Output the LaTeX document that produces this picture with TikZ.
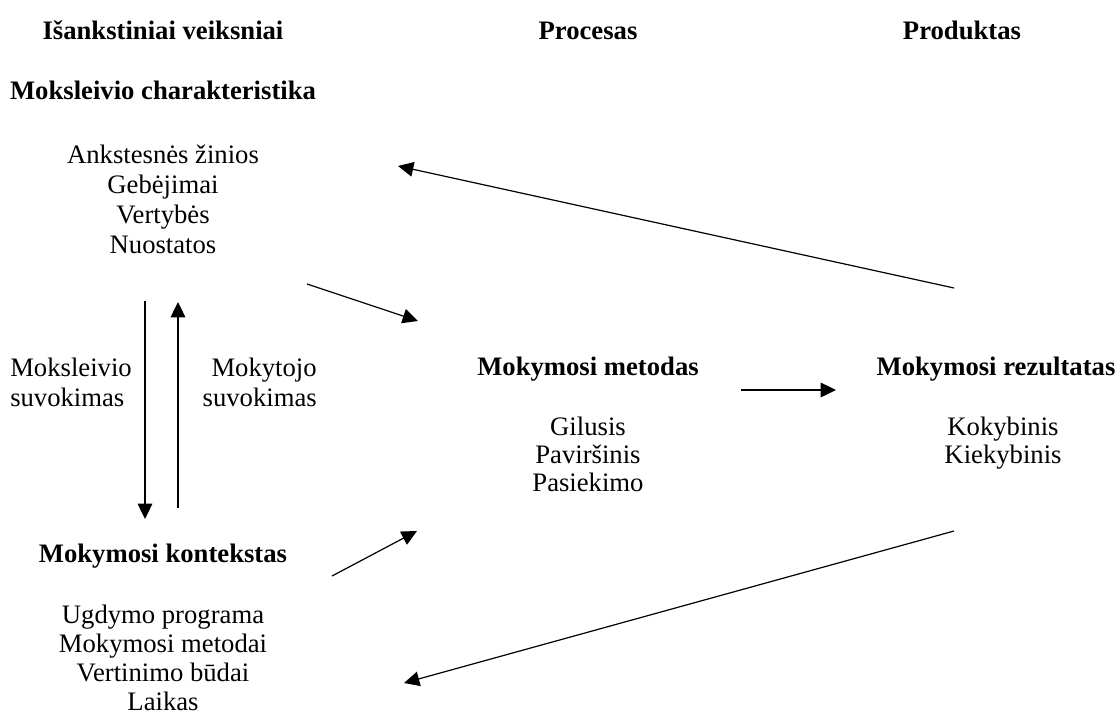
\documentclass[tikz,border=0pt]{standalone}
\usepackage{fontspec}
\setmainfont{Liberation Serif}
\usetikzlibrary{arrows.meta}
\begin{document}
\begin{tikzpicture}[x=0.75pt,y=-0.75pt,
  txt/.style={inner sep=0pt,anchor=base,font=\fontsize{20}{22}\selectfont},
  hd/.style={txt,font=\fontsize{20}{22}\selectfont\bfseries},
  lft/.style={txt,anchor=base west},
  rgt/.style={txt,anchor=base east},
  arr/.style={draw,line width=0.9pt,-{Triangle[length=11.5pt,width=11pt]}}]
\useasboundingbox (0,0) rectangle (1120,713);
% column headings
\node[hd] (h1) at (163,40) {Išankstiniai veiksniai};
\node[hd] (h2) at (588,40) {Procesas};
\node[hd] (h3) at (962,40) {Produktas};
% student characteristics
\node[hd] (mc) at (163,100) {Moksleivio charakteristika};
\node[txt] (c1) at (163,164) {Ankstesnės žinios};
\node[txt] (c2) at (163,194) {Gebėjimai};
\node[txt] (c3) at (163,223) {Vertybės};
\node[txt] (c4) at (163,253) {Nuostatos};
% perceptions
\node[lft] (p1) at (10,376) {Moksleivio};
\node[lft] (p2) at (10,406) {suvokimas};
\node[rgt] (q1) at (317,376) {Mokytojo};
\node[rgt] (q2) at (317,406) {suvokimas};
% context
\node[hd] (mk) at (163,562) {Mokymosi kontekstas};
\node[txt] (k1) at (163,623) {Ugdymo programa};
\node[txt] (k2) at (163,652) {Mokymosi metodai};
\node[txt] (k3) at (163,681) {Vertinimo būdai};
\node[txt] (k4) at (163,710) {Laikas};
% method
\node[hd] (mm) at (588,375) {Mokymosi metodas};
\node[txt] (m1) at (588,435) {Gilusis};
\node[txt] (m2) at (588,463) {Paviršinis};
\node[txt] (m3) at (588,491) {Pasiekimo};
% result
\node[hd] (mr) at (996,375) {Mokymosi rezultatas};
\node[txt] (r1) at (1003,435) {Kokybinis};
\node[txt] (r2) at (1003,463) {Kiekybinis};
% connector ends
\coordinate (a1s) at (307,284);
\coordinate (a1e) at (418,321);
\coordinate (a2s) at (954,288);
\coordinate (a2e) at (398,166);
\coordinate (a3s) at (741,390);
\coordinate (a3e) at (836,390);
\coordinate (a4s) at (332,576);
\coordinate (a4e) at (417,531);
\coordinate (a5s) at (954,531);
\coordinate (a5e) at (404,683);
\coordinate (a6s) at (145,301);
\coordinate (a6e) at (145,519);
\coordinate (a7s) at (178,508);
\coordinate (a7e) at (178,302);
\draw[arr] (a1s) -- (a1e);
\draw[arr] (a2s) -- (a2e);
\draw[arr] (a3s) -- (a3e);
\draw[arr] (a4s) -- (a4e);
\draw[arr] (a5s) -- (a5e);
\draw[arr] (a6s) -- (a6e);
\draw[arr] (a7s) -- (a7e);
\end{tikzpicture}
\end{document}
